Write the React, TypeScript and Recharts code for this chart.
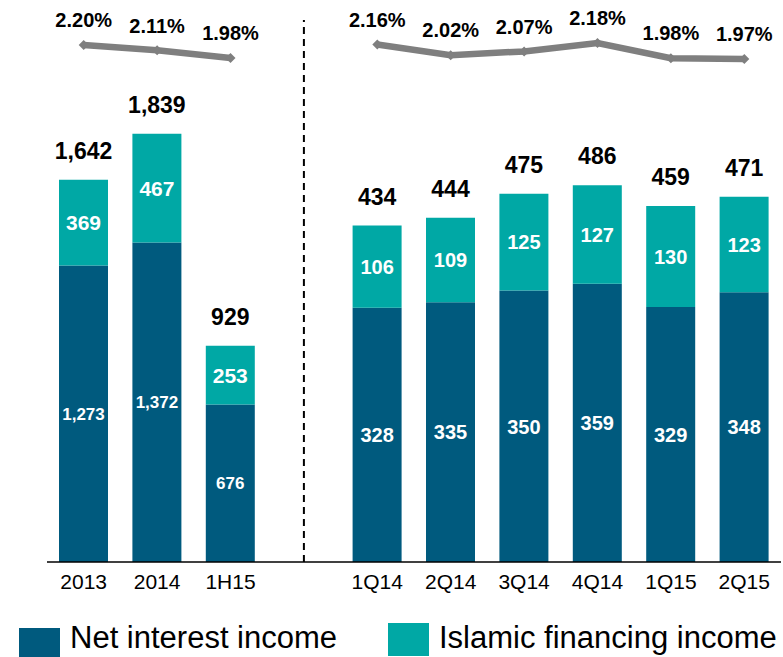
import React from "react";
import {
  ComposedChart,
  Bar,
  Line,
  XAxis,
  YAxis,
  LabelList,
  ReferenceLine,
} from "recharts";

const annualCats = ["2013", "2014", "1H15"];
const annualNII = [1273, 1372, 676];
const annualIslamic = [369, 467, 253];
const annualTotal = [1642, 1839, 929];
const annualMargin = [2.2, 2.11, 1.98];

const quarterCats = ["1Q14", "2Q14", "3Q14", "4Q14", "1Q15", "2Q15"];
const quarterNII = [328, 335, 350, 359, 329, 348];
const quarterIslamic = [106, 109, 125, 127, 130, 123];
const quarterTotal = [434, 444, 475, 486, 459, 471];
const quarterMargin = [2.16, 2.02, 2.07, 2.18, 1.98, 1.97];

const GAP = " ";
const DARK = "#005A7E";
const TEAL = "#00A8A5";
const GREY = "#7F7F7F";
const FONT = "'Liberation Sans', Arial, sans-serif";

const rows = [
  ...annualCats.map((cat, i) => ({
    cat,
    aNII: annualNII[i],
    aIsl: annualIslamic[i],
    aTot: annualTotal[i],
    aMargin: annualMargin[i],
  })),
  { cat: GAP },
  ...quarterCats.map((cat, i) => ({
    cat,
    qNII: quarterNII[i],
    qIsl: quarterIslamic[i],
    qTot: quarterTotal[i],
    qMargin: quarterMargin[i],
  })),
];

const fmt = (v: number) => v.toLocaleString("en-US");

// white value centred inside a bar segment
const inside = (size: number) => (p: any) => {
  if (p.value == null) return null;
  const vb = p.viewBox || p;
  return (
    <text
      x={vb.x + vb.width / 2}
      y={vb.y + vb.height / 2}
      dy="0.36em"
      textAnchor="middle"
      fill="#fff"
      fontSize={size}
      fontWeight="bold"
      fontFamily={FONT}
    >
      {fmt(p.value)}
    </text>
  );
};

// black total above the stack
const total = (p: any) => {
  if (p.value == null) return null;
  const vb = p.viewBox || p;
  return (
    <text
      x={vb.x + vb.width / 2}
      y={vb.y - 29}
      dy="0.36em"
      textAnchor="middle"
      fill="#000"
      fontSize={23}
      fontWeight="bold"
      fontFamily={FONT}
    >
      {fmt(p.value)}
    </text>
  );
};

const marginLabel = (p: any) => {
  if (p.value == null) return null;
  const vb = p.viewBox || p;
  return (
    <text
      x={vb.x}
      y={vb.y - 25}
      dy="0.36em"
      textAnchor="middle"
      fill="#000"
      fontSize={20}
      fontWeight="bold"
      fontFamily={FONT}
    >
      {p.value.toFixed(2) + "%"}
    </text>
  );
};

const diamond = (p: any) => {
  if (p.cy == null || p.value == null) return <g key={p.index} />;
  const r = 5;
  return (
    <path
      key={p.index}
      d={`M${p.cx - r},${p.cy} L${p.cx},${p.cy - r} L${p.cx + r},${p.cy} L${p.cx},${p.cy + r} Z`}
      fill={GREY}
    />
  );
};

function LegendItem({ color, label, left, boxTop, boxH }: any) {
  return (
    <>
      <div
        style={{ position: "absolute", left, top: boxTop, width: 41, height: boxH, background: color }}
      />
      <div
        style={{
          position: "absolute",
          left: left + 51,
          top: 622,
          fontFamily: FONT,
          fontSize: 31,
          lineHeight: "31px",
          color: "#000",
          whiteSpace: "nowrap",
        }}
      >
        {label}
      </div>
    </>
  );
}

export default function App() {
  return (
    <div
      style={{
        position: "absolute",
        left: 0,
        top: 0,
        width: 783,
        height: 657,
        overflow: "hidden",
        background: "#fff",
      }}
    >
      <ComposedChart
        width={783}
        height={657}
        data={rows}
        margin={{ top: 20, right: 2, bottom: 65, left: 47 }}
      >
        <XAxis
          dataKey="cat"
          height={30}
          interval={0}
          tickLine={false}
          tickMargin={6}
          axisLine={{ stroke: "#000", strokeWidth: 1.5 }}
          tick={{ fontSize: 21, fill: "#000", fontFamily: FONT }}
        />
        <YAxis yAxisId="a" hide domain={[0, 2328]} />
        <YAxis yAxisId="q" hide domain={[0, 699]} />
        <YAxis yAxisId="ma" hide domain={[-6.562, 2.624]} />
        <YAxis yAxisId="mq" hide domain={[-4.649, 2.483]} />

        <ReferenceLine
          x={GAP}
          yAxisId="a"
          stroke="#000"
          strokeWidth={2}
          strokeDasharray="7 5"
        />

        <Bar dataKey="aNII" yAxisId="a" stackId="s" fill={DARK} barSize={49} isAnimationActive={false}>
          <LabelList dataKey="aNII" content={inside(17)} />
        </Bar>
        <Bar dataKey="aIsl" yAxisId="a" stackId="s" fill={TEAL} barSize={49} isAnimationActive={false}>
          <LabelList dataKey="aIsl" content={inside(21)} />
          <LabelList dataKey="aTot" content={total} />
        </Bar>
        <Bar dataKey="qNII" yAxisId="q" stackId="s" fill={DARK} barSize={49} isAnimationActive={false}>
          <LabelList dataKey="qNII" content={inside(20)} />
        </Bar>
        <Bar dataKey="qIsl" yAxisId="q" stackId="s" fill={TEAL} barSize={49} isAnimationActive={false}>
          <LabelList dataKey="qIsl" content={inside(20)} />
          <LabelList dataKey="qTot" content={total} />
        </Bar>

        <Line
          dataKey="aMargin"
          yAxisId="ma"
          stroke={GREY}
          strokeWidth={6.5}
          dot={diamond}
          activeDot={false}
          connectNulls={false}
          isAnimationActive={false}
        >
          <LabelList dataKey="aMargin" content={marginLabel} />
        </Line>
        <Line
          dataKey="qMargin"
          yAxisId="mq"
          stroke={GREY}
          strokeWidth={6.5}
          dot={diamond}
          activeDot={false}
          connectNulls={false}
          isAnimationActive={false}
        >
          <LabelList dataKey="qMargin" content={marginLabel} />
        </Line>
      </ComposedChart>

      <LegendItem color={DARK} label="Net interest income" left={19} boxTop={628} boxH={30} />
      <LegendItem color={TEAL} label="Islamic financing income" left={388} boxTop={623} boxH={33} />
    </div>
  );
}
